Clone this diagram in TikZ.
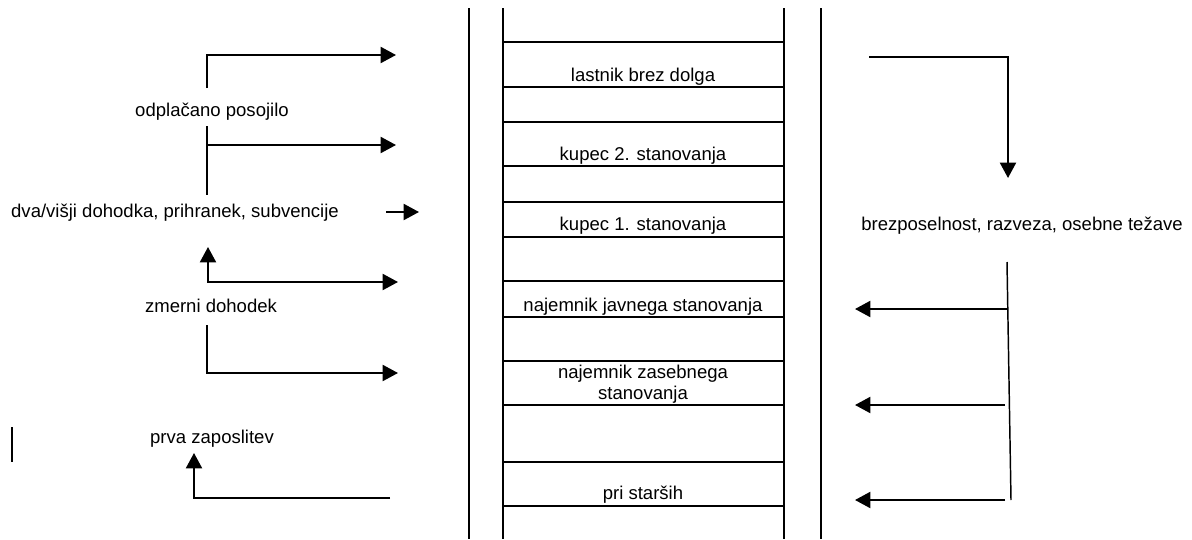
\documentclass[tikz,border=0pt]{standalone}
\usepackage{fontspec}
\setmainfont{Liberation Sans}
\usetikzlibrary{arrows.meta,positioning}
\tikzset{
  >={Triangle[length=11.5pt,width=12pt]},
  rail/.style   = {line width=1.5pt},
  rung/.style   = {line width=1.5pt},
  caption/.style = {
    inner sep=0pt,
    align=center,
    font=\fontsize{13.9}{16}\selectfont
    },
  wire/.style   = {line width=1.5pt},
  flow/.style   = {wire, ->}
}
\begin{document}
\begin{tikzpicture}[x=0.75pt, y=-0.75pt]
    \useasboundingbox (0,0) rectangle (1192,539);
    % ladder
    \foreach \x in {469,503,784,821}
        \draw[rail] (\x,8) -- (\x,539);
    \foreach \y in {42,87,122,166,202,237,281,317,361,405,462,506}
        \draw[rung] (503,\y) -- (784,\y);
    \node [caption] (lastnik)  at (643,77)  {lastnik brez dolga};
    \node [caption] (kupecB)   at (643,156) {kupec 2. stanovanja};
    \node [caption] (kupecA)   at (643,226) {kupec 1. stanovanja};
    \node [caption] (javno)    at (643,307) {najemnik javnega stanovanja};
    \node [caption] (zasebno)  at (643,384) {najemnik zasebnega\\stanovanja};
    \node [caption] (starsi)   at (643,495) {pri starših};
    % up the ladder
    \node [caption] (posojilo)   at (212,112) {odplačano posojilo};
    \node [caption] (dohodki)    at (175,213) {dva/višji dohodka, prihranek, subvencije};
    \node [caption] (zmerni)     at (211,306) {zmerni dohodek};
    \node [caption] (zaposlitev) at (212,439) {prva zaposlitev};
    \coordinate (upA)    at (207,88);
    \coordinate (toLast) at (396,55);
    \draw[flow] (upA) |- (toLast);
    \coordinate (upB)    at (207,126);
    \coordinate (upBend) at (207,195);
    \coordinate (toKupB) at (396,145);
    \draw[wire] (upB) -- (upBend);
    \draw[flow] (upB |- toKupB) -- (toKupB);
    \coordinate (fromDoh) at (386,212);
    \coordinate (toKupA)  at (419,212);
    \draw[flow] (fromDoh) -- (toKupA);
    \coordinate (upC)     at (208,247);
    \coordinate (toJavno) at (398,282);
    \draw[wire, <->] (upC) |- (toJavno);
    \coordinate (upD)     at (207,325);
    \coordinate (toZaseb) at (398,373);
    \draw[flow] (upD) |- (toZaseb);
    \coordinate (barTop) at (12,427);
    \coordinate (barBot) at (12,462);
    \draw[wire] (barTop) -- (barBot);
    \coordinate (fromStarsi) at (390,498);
    \coordinate (upE)        at (194,453);
    \draw[flow] (fromStarsi) -| (upE);
    % down the ladder
    \node [caption] (tezave) at (1022,226) {brezposelnost, razveza, osebne težave};
    \coordinate (fromLast) at (869,57);
    \coordinate (downA)    at (1008,178);
    \draw[flow] (fromLast) -| (downA);
    \coordinate (downTop) at (1007,262);
    \coordinate (downBot) at (1011,500);
    \draw[wire, line width=1.1pt] (downTop) -- (downBot);
    \foreach \y/\xs in {309/1007,405/1005,500/1005}
        \draw[flow] (\xs,\y) -- (855,\y);
\end{tikzpicture}
\end{document}
